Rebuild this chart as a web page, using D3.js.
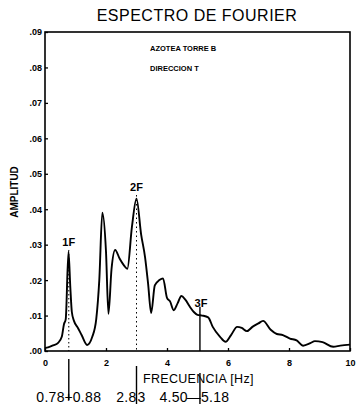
<!DOCTYPE html>
<html>
<head>
<meta charset="utf-8">
<script src="https://cdn.jsdelivr.net/npm/d3@7"></script>
<style>
  body { margin: 0; background: #fff; }
  text { font-family: "Liberation Sans", Arial, sans-serif; fill: #000; }
</style>
</head>
<body>
<svg id="chart" width="357" height="404"></svg>
<script>
// espectro de fourier, azotea torre B, direccion T
const freq = [0.00, 0.10, 0.27, 0.43, 0.55, 0.62, 0.68, 0.77, 0.83, 0.88, 0.95, 1.08, 1.20, 1.38, 1.55, 1.68,
  1.78, 1.88, 2.00, 2.08, 2.18, 2.30, 2.45, 2.60, 2.70, 2.85, 3.00, 3.15, 3.28, 3.38, 3.48, 3.60, 3.75, 3.87,
  4.00, 4.10, 4.22, 4.35, 4.47, 4.60, 4.75, 4.88, 5.00, 5.15, 5.35, 5.50, 5.74, 5.92, 6.10, 6.30, 6.45, 6.62,
  6.80, 7.00, 7.15, 7.40, 7.60, 7.80, 8.03, 8.25, 8.46, 8.70, 8.85, 9.10, 9.45, 9.68, 10.0];
const amp = [0.0008, 0.0010, 0.0016, 0.0023, 0.0040, 0.0075, 0.0090, 0.0280, 0.0180, 0.0110, 0.0085, 0.0065,
  0.0045, 0.0017, 0.0040, 0.0090, 0.0200, 0.0390, 0.0280, 0.0105, 0.0230, 0.0285, 0.0260, 0.0240, 0.0232,
  0.0350, 0.0430, 0.0330, 0.0265, 0.0190, 0.0107, 0.0185, 0.0200, 0.0205, 0.0150, 0.0140, 0.0115, 0.0135,
  0.0155, 0.0145, 0.0125, 0.0110, 0.0102, 0.0100, 0.0095, 0.0068, 0.0040, 0.0026, 0.0045, 0.0068, 0.0065,
  0.0056, 0.0068, 0.0078, 0.0085, 0.0060, 0.0048, 0.0045, 0.0035, 0.0030, 0.0015, 0.0022, 0.0028, 0.0025,
  0.0012, 0.0015, 0.0018];

const xTicks = [0, 2, 4, 6, 8, 10];
const yTicks = [0, 0.01, 0.02, 0.03, 0.04, 0.05, 0.06, 0.07, 0.08, 0.09];

const harmLabels = ["1F", "2F", "3F"];
const harmFreq = [0.78, 3.0, 5.08];
const harmTop = [0.0285, 0.0440, 0.0125];
const harmDash = ["1.5,2.5", "1.5,3", null];

const rangeLeft = ["0.78", "2.8", "4.50"];
const rangeRight = ["0.88", "3", "5.18"];
const rangeSep = ["+", "", "—"];

const W = 357, H = 404;
const m = { left: 45, right: 7, top: 32, bottom: 53 };
const svg = d3.select("#chart");

const x = d3.scaleLinear().domain([0, 10]).range([m.left, W - m.right]);
const y = d3.scaleLinear().domain([0, 0.09]).range([H - m.bottom, m.top]);

// title
svg.append("text")
  .attr("x", 197).attr("y", 21)
  .attr("text-anchor", "middle")
  .style("font-size", "16px")
  .style("letter-spacing", "0.5px")
  .text("ESPECTRO DE FOURIER");

// frame
svg.append("rect")
  .attr("x", x(0)).attr("y", y(0.09))
  .attr("width", x(10) - x(0)).attr("height", y(0) - y(0.09))
  .attr("fill", "none").attr("stroke", "#000").attr("stroke-width", 1.6);

// y axis
const yAxis = svg.append("g")
  .attr("transform", `translate(${x(0)},0)`)
  .call(d3.axisRight(y).tickValues(yTicks).tickSize(3)
    .tickFormat(d => d3.format(".2f")(d).replace(/^0/, "")));
yAxis.select(".domain").remove();
yAxis.selectAll("line").attr("stroke-width", 1.3);
yAxis.selectAll("text")
  .attr("x", -3).attr("text-anchor", "end")
  .style("font-size", "9px").style("font-weight", "bold");

// x axis
const xAxis = svg.append("g")
  .attr("transform", `translate(0,${y(0)})`)
  .call(d3.axisTop(x).tickValues(xTicks).tickSize(3));
xAxis.select(".domain").remove();
xAxis.selectAll("line").attr("stroke-width", 1.3);
xAxis.selectAll("text")
  .attr("y", 15)
  .style("font-size", "9px").style("font-weight", "bold");

// axis titles
svg.append("text")
  .attr("transform", "translate(18,192) rotate(-90)")
  .attr("text-anchor", "middle")
  .style("font-size", "10px").style("font-weight", "bold")
  .text("AMPLITUD");

svg.append("text")
  .attr("x", 143).attr("y", 383)
  .style("font-size", "12.5px")
  .style("letter-spacing", "0.3px")
  .text("FRECUENCIA [Hz]");

// annotation
svg.append("text").attr("x", 150).attr("y", 51)
  .style("font-size", "7.5px").style("font-weight", "bold")
  .text("AZOTEA TORRE B");
svg.append("text").attr("x", 150).attr("y", 71)
  .style("font-size", "7.5px").style("font-weight", "bold")
  .text("DIRECCION T");

// spectrum
const pts = freq.map((f, i) => [f, amp[i]]);
svg.append("path")
  .datum(pts)
  .attr("fill", "none").attr("stroke", "#000")
  .attr("stroke-width", 1.9).attr("stroke-linejoin", "round")
  .attr("d", d3.line().x(d => x(d[0])).y(d => y(d[1])).curve(d3.curveMonotoneX));

// harmonic markers
harmFreq.forEach((f, i) => {
  svg.append("line")
    .attr("x1", x(f)).attr("x2", x(f))
    .attr("y1", y(harmTop[i])).attr("y2", y(0))
    .attr("stroke", "#000").attr("stroke-width", i === 2 ? 1.4 : 1)
    .attr("stroke-dasharray", harmDash[i]);
  svg.append("text")
    .attr("x", x(f) + (i === 2 ? 1 : 0)).attr("y", y(harmTop[i]) - (i === 2 ? 0 : 4))
    .attr("text-anchor", "middle")
    .style("font-size", "11px").style("font-weight", "bold")
    .text(harmLabels[i]);
  // line below the axis
  svg.append("line")
    .attr("x1", x(f)).attr("x2", x(f))
    .attr("y1", y(0) + 8 + i * 7).attr("y2", i === 0 ? 400 : H)
    .attr("stroke", "#000").attr("stroke-width", 1.4);
});

// frequency ranges under the axis
const rg = svg.append("g").style("font-size", "14px").style("letter-spacing", "0.3px");
harmFreq.forEach((f, i) => {
  const sepW = rangeSep[i] === "+" ? 4 : rangeSep[i] === "—" ? 12 : 0;
  rg.append("text")
    .attr("x", x(f) - sepW).attr("y", 402)
    .attr("text-anchor", "end")
    .text(rangeLeft[i]);
  if (rangeSep[i]) {
    rg.append("text")
      .attr("x", x(f) - (rangeSep[i] === "—" ? 6 : 0)).attr("y", 402)
      .attr("text-anchor", "middle")
      .text(rangeSep[i]);
  }
  rg.append("text")
    .attr("x", x(f) + (rangeSep[i] === "+" ? 4 : 1)).attr("y", 402)
    .attr("text-anchor", "start")
    .text(rangeRight[i]);
});
</script>
</body>
</html>
